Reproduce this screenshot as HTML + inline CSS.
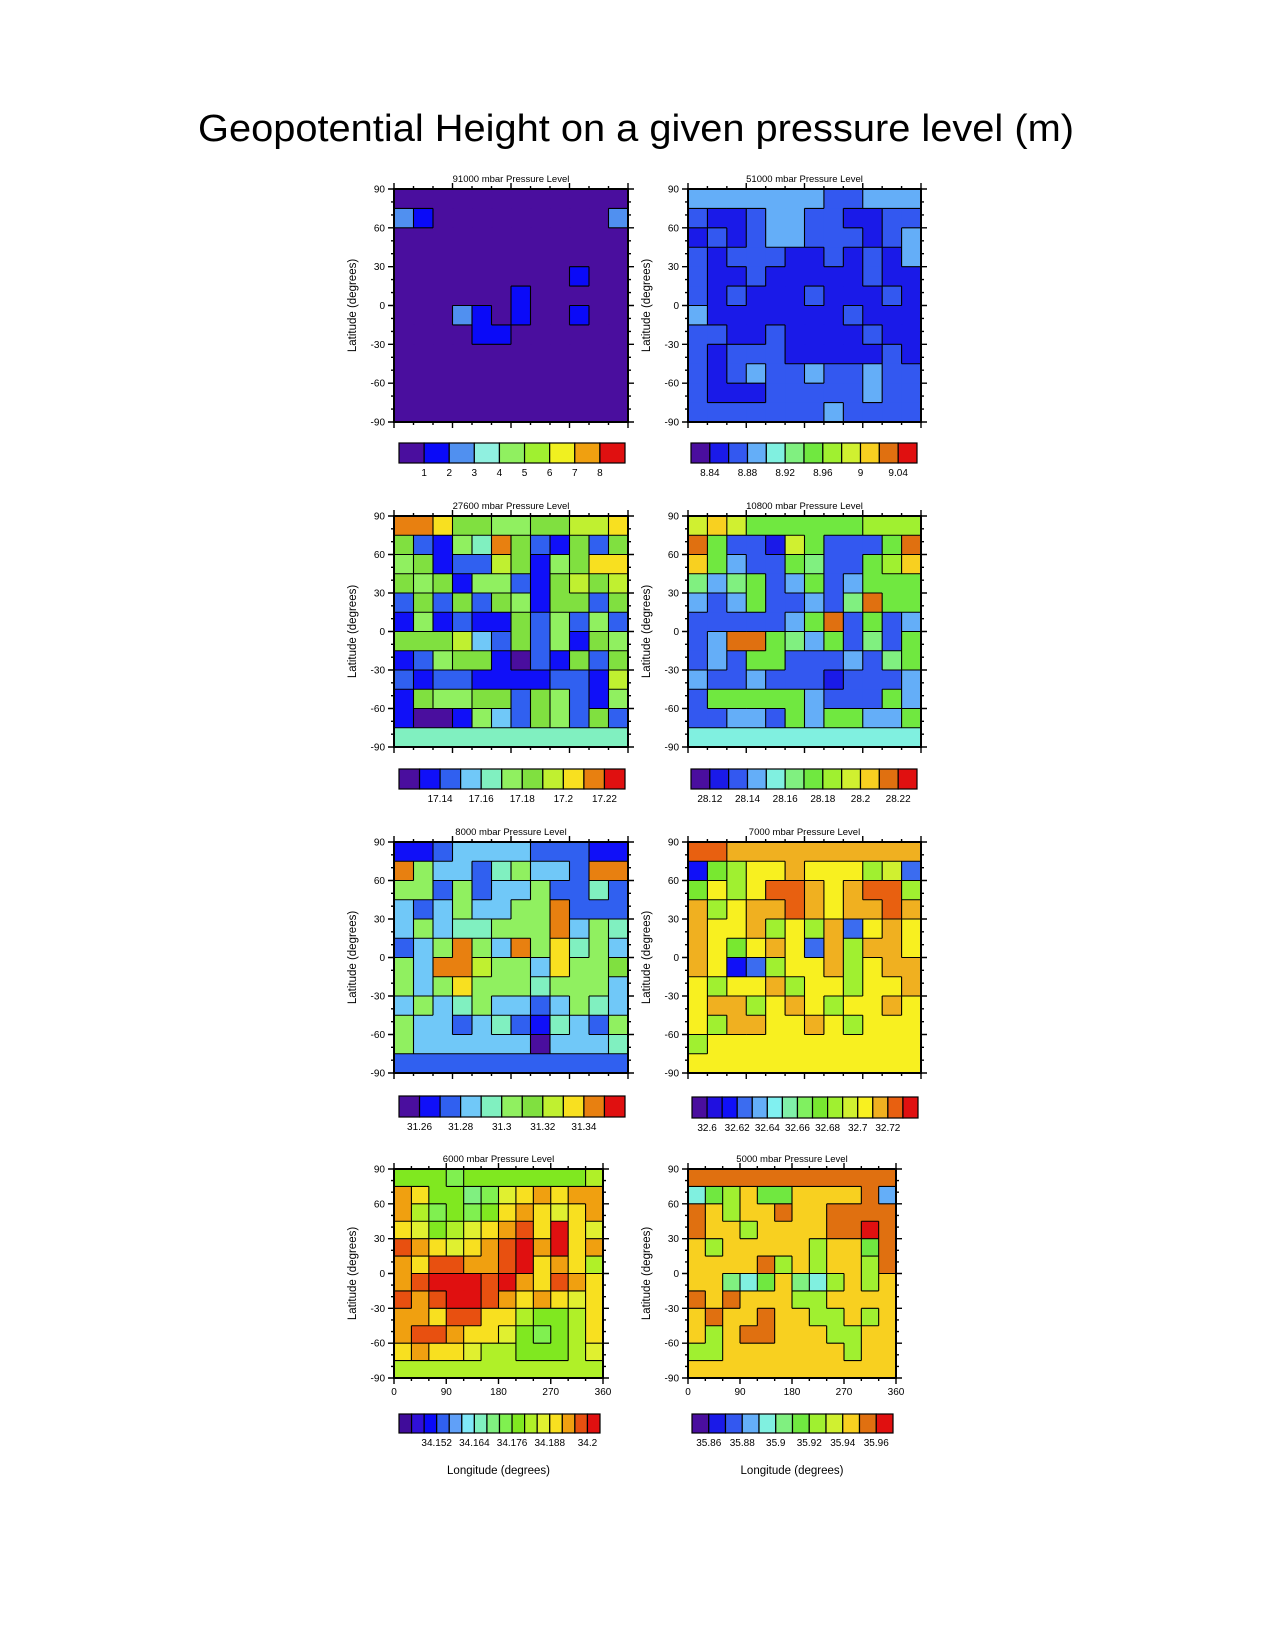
<!DOCTYPE html>
<html><head><meta charset="utf-8">
<style>
html,body{margin:0;padding:0;background:#fff;}
svg{display:block;font-family:"Liberation Sans",sans-serif;}
</style></head>
<body>
<svg id="fig" width="1275" height="1650" viewBox="0 0 1275 1650" xmlns="http://www.w3.org/2000/svg">
<rect x="0" y="0" width="1275" height="1650" fill="#fff"/>
<text x="636" y="141" font-size="38" text-anchor="middle" textLength="876" lengthAdjust="spacingAndGlyphs" fill="#000">Geopotential Height on a given pressure level (m)</text>
</svg>
<script>
// ---- data: colour-level index grids (12 lon cols x 12 lat rows, top row = 90N) ----
const titles = ["91000 mbar Pressure Level","51000 mbar Pressure Level","27600 mbar Pressure Level","10800 mbar Pressure Level","8000 mbar Pressure Level","7000 mbar Pressure Level","6000 mbar Pressure Level","5000 mbar Pressure Level"];
const levels1 = [1,2,3,4,5,6,7,8];
const levels2 = [8.84,8.86,8.88,8.90,8.92,8.94,8.96,8.98,9,9.02,9.04];
const levels3 = [17.13,17.14,17.15,17.16,17.17,17.18,17.19,17.2,17.21,17.22];
const levels4 = [28.12,28.13,28.14,28.15,28.16,28.17,28.18,28.19,28.2,28.21,28.22];
const levels5 = [31.26,31.27,31.28,31.29,31.3,31.31,31.32,31.33,31.34,31.35];
const levels6 = [32.6,32.61,32.62,32.63,32.64,32.65,32.66,32.67,32.68,32.69,32.7,32.71,32.72,32.73];
const levels7 = [34.144,34.148,34.152,34.156,34.16,34.164,34.168,34.172,34.176,34.18,34.184,34.188,34.192,34.196,34.2];
const levels8 = [35.86,35.87,35.88,35.89,35.9,35.91,35.92,35.93,35.94,35.95,35.96];
const labelEvery = [1,2,2,2,2,2,3,2];
const labelStart = [0,0,1,0,0,0,2,0];
const field1 = [
[0,0,0,0,0,0,0,0,0,0,0,0],[2,1,0,0,0,0,0,0,0,0,0,2],[0,0,0,0,0,0,0,0,0,0,0,0],[0,0,0,0,0,0,0,0,0,0,0,0],
[0,0,0,0,0,0,0,0,0,1,0,0],[0,0,0,0,0,0,1,0,0,0,0,0],[0,0,0,2,1,0,1,0,0,1,0,0],[0,0,0,0,1,1,0,0,0,0,0,0],
[0,0,0,0,0,0,0,0,0,0,0,0],[0,0,0,0,0,0,0,0,0,0,0,0],[0,0,0,0,0,0,0,0,0,0,0,0],[0,0,0,0,0,0,0,0,0,0,0,0]];
const field2 = [
[3,3,3,3,3,3,3,2,2,3,3,3],[2,1,1,2,3,3,2,2,1,1,2,2],[1,2,1,2,3,3,2,2,2,1,2,3],[2,1,2,2,2,1,1,2,1,2,1,3],
[2,1,1,2,1,1,1,1,1,2,1,1],[2,1,2,1,1,1,2,1,1,1,2,1],[3,1,1,1,1,1,1,1,2,1,1,1],[2,2,1,1,2,1,1,1,1,2,1,1],
[2,1,2,2,2,1,1,1,1,1,2,1],[2,1,2,3,2,2,3,2,2,3,2,2],[2,1,1,1,2,2,2,2,2,3,2,2],[2,2,2,2,2,2,2,3,2,2,2,2]];
const field3 = [
[9,9,8,6,6,5,5,6,6,7,7,8],[6,2,1,5,4,9,6,2,1,6,2,6],[5,6,1,2,2,7,6,1,5,6,8,8],[6,5,6,1,5,5,2,1,6,7,6,7],
[2,6,2,6,2,6,5,1,6,6,2,6],[1,5,1,2,1,1,6,2,5,2,5,2],[6,6,6,7,3,2,6,2,5,1,6,5],[1,2,5,6,6,1,0,2,1,6,2,6],
[2,1,2,2,1,1,1,1,2,2,1,7],[1,6,5,5,6,6,2,6,5,2,1,5],[1,0,0,1,5,3,2,6,5,2,6,2],[4,4,4,4,4,4,4,4,4,4,4,4]];
const field4 = [
[8,9,8,6,6,6,6,6,6,7,7,7],[10,6,2,2,1,8,6,2,2,2,6,10],[9,6,3,2,2,6,5,2,2,6,7,9],[5,3,5,6,2,3,6,2,3,6,6,6],
[3,2,3,6,2,2,3,2,5,10,6,6],[2,2,2,2,2,3,6,10,2,6,2,3],[2,3,10,10,6,5,3,6,2,5,2,6],[2,3,2,6,6,2,2,2,3,2,5,6],
[3,2,2,3,2,2,2,1,2,2,2,3],[2,6,6,6,6,6,3,2,2,2,6,3],[2,2,3,3,2,6,3,6,6,3,3,6],[4,4,4,4,4,4,4,4,4,4,4,4]];
const field5 = [
[1,1,2,3,3,3,3,2,2,2,1,1],[9,5,3,3,2,4,5,3,3,2,9,9],[5,5,2,5,2,3,3,5,2,2,4,2],[3,2,3,5,3,3,5,5,9,2,2,2],
[3,5,3,4,4,5,5,5,9,3,5,4],[2,3,5,9,5,3,9,5,8,4,5,3],[5,3,9,9,7,5,5,3,8,5,5,6],[5,3,5,8,5,5,5,4,5,5,5,3],
[3,5,3,4,5,3,3,2,3,5,4,3],[5,3,3,2,3,4,2,1,4,3,2,5],[5,3,3,3,3,3,3,0,3,3,3,4],[2,2,2,2,2,2,2,2,2,2,2,2]];
const field6 = [
[13,13,12,12,12,12,12,12,12,12,12,12],[2,8,9,11,11,12,11,11,11,9,10,3],[8,11,9,11,13,13,12,11,12,13,13,9],[12,9,11,12,12,13,12,11,12,12,13,12],
[12,11,11,12,9,11,9,12,3,11,12,11],[12,11,8,11,12,11,3,12,9,12,12,11],[12,11,2,3,9,11,11,12,9,11,12,12],[11,9,11,11,12,9,11,11,9,11,11,12],
[11,12,12,9,11,12,11,9,11,11,12,11],[11,9,12,12,11,11,12,11,9,11,11,11],[9,11,11,11,11,11,11,11,11,11,11,11],[11,11,11,11,11,11,11,11,11,11,11,11]];
const field7 = [
[9,9,9,8,9,9,9,9,9,9,9,10],[13,12,9,9,7,8,11,12,13,12,13,13],[13,10,8,9,8,9,12,13,12,11,12,13],[12,11,9,10,11,12,13,14,12,15,12,11],
[14,13,12,11,12,13,14,15,13,15,12,13],[13,12,14,14,13,13,14,15,12,13,12,10],[13,14,15,15,15,14,15,13,12,14,13,12],[14,13,14,15,15,14,13,12,13,12,11,12],
[13,13,12,14,14,12,12,10,9,9,10,12],[13,14,14,13,12,12,11,9,8,9,10,12],[12,13,12,12,11,10,10,9,9,9,10,11],[10,10,10,10,10,10,10,10,10,10,10,10]];
const field8 = [
[10,10,10,10,10,10,10,10,10,10,10,10],[4,6,7,9,6,6,9,9,9,9,10,3],[10,9,7,9,9,10,9,9,10,10,10,10],[10,9,9,7,9,9,9,9,10,10,11,10],
[9,7,9,9,9,9,9,7,9,9,6,10],[9,9,9,9,10,7,9,7,9,9,7,10],[9,9,5,4,6,9,5,4,7,9,7,9],[10,9,10,9,9,9,7,7,9,9,9,9],
[9,10,9,9,10,9,9,7,7,9,7,9],[9,7,9,10,10,9,9,9,7,7,9,9],[7,7,9,9,9,9,9,9,9,7,9,9],[9,9,9,9,9,9,9,9,9,9,9,9]];
const yTicks = [90,60,30,0,-30,-60,-90];
const xTicks = [0,90,180,270,360];

// ---- styles / layout ----
const pal9 = ["#4a0e9e","#0a0af8","#5090f0","#90f0e0","#90f060","#a0f030","#f0f020","#f0a010","#e01010"];
const pal11 = ["#4a0e9e","#1010f8","#3060f0","#70c8f8","#80f0c0","#90f060","#80e040","#c0f030","#f8e020","#e88010","#e01010"];
const pal12 = ["#4a0e9e","#1a1ae8","#3358f0","#64aef8","#80f0e0","#80f080","#70e840","#a0f030","#d0f030","#f8d020","#e07010","#e01010"];
const pal15 = ["#4a0e9e","#2010e0","#1010f8","#3b6cf0","#64aef8","#80f0f0","#80f0a8","#80f060","#78e830","#a0f030","#d0f030","#f8f020","#f0b020","#e86010","#e01010"];
const pal16 = ["#400c9a","#3010d8","#0a0af8","#3060f0","#60a0f8","#80e8f8","#80f0c0","#80f080","#80f050","#80e820","#b0f028","#e0f030","#f8e020","#f0a010","#e85010","#e01010"];
const fields = [field1,field2,field3,field4,field5,field6,field7,field8];
const levelSets = [levels1,levels2,levels3,levels4,levels5,levels6,levels7,levels8];
const pals = [pal9,pal12,pal11,pal12,pal11,pal15,pal16,pal12];
const boxes = [
 {x:394,y:189,w:234,h:233},{x:688,y:189,w:233,h:233},
 {x:394,y:516,w:234,h:231},{x:688,y:516,w:233,h:231},
 {x:394,y:842,w:234,h:231},{x:688,y:842,w:233,h:231},
 {x:394,y:1169,w:209,h:209},{x:688,y:1169,w:208,h:209}];
const cbars = [
 {x:399,y:443,w:226,h:20},{x:691,y:443,w:226,h:20},
 {x:399,y:769,w:226,h:20},{x:691,y:769,w:226,h:20},
 {x:399,y:1096,w:226,h:21},{x:692,y:1097,w:226,h:21},
 {x:399,y:1414,w:201,h:19},{x:692,y:1414,w:201,h:19}];

const NS = "http://www.w3.org/2000/svg";
const svg = document.getElementById("fig");
function mk(tag, attrs, parent){
  const e = document.createElementNS(NS, tag);
  for (const k in attrs) e.setAttribute(k, attrs[k]);
  (parent||svg).appendChild(e);
  return e;
}
function txt(s, x, y, size, anchor, parent){
  const t = mk("text", {x:x, y:y, "font-size":size, "text-anchor":anchor||"middle", fill:"#000"}, parent);
  t.textContent = s;
  return t;
}

for (let p = 0; p < 8; p++){
  const b = boxes[p], f = fields[p], pal = pals[p];
  const g = mk("g", {});
  
  
  const nr = f.length, nc = f[0].length;
  const xs = c => b.x + c * b.w / nc;
  const ys = r => b.y + r * b.h / nr;
  for (let r = 0; r < nr; r++){
    for (let c = 0; c < nc; c++){
      const cell = mk("rect", {x:xs(c), y:ys(r), width:b.w/nc+0.6, height:b.h/nr+0.6, fill:pal[f[r][c]]}, g);
      
      
    }
  }
  let d = "";
  for (let r = 0; r < nr; r++) for (let c = 0; c < nc; c++){
    if (c < nc-1 && f[r][c] !== f[r][c+1]) d += `M${xs(c+1)},${ys(r)}V${ys(r+1)}`;
    if (r < nr-1 && f[r][c] !== f[r+1][c]) d += `M${xs(c)},${ys(r+1)}H${xs(c+1)}`;
  }
  const cl = mk("path", {d:d, stroke:"#000", "stroke-width":1.1, fill:"none"}, g);
  
  
  const fr = mk("rect", {x:b.x, y:b.y, width:b.w, height:b.h, fill:"none", stroke:"#000", "stroke-width":2}, g);
  
  
  const latY = v => b.y + (90 - v) / 180 * b.h;
  let tk = "";
  for (let v = -90; v <= 90; v += 10){
    const major = v % 30 === 0;
    const L = major ? 6 : 3;
    tk += `M${b.x},${latY(v)}h${-L}M${b.x+b.w},${latY(v)}h${L}`;
  }
  const lonX = v => b.x + v / 360 * b.w;
  for (let v = 0; v <= 360; v += 30){
    const major = v % 90 === 0;
    const L = major ? 6 : 3;
    tk += `M${lonX(v)},${b.y}v${-L}M${lonX(v)},${b.y+b.h}v${L}`;
  }
  const tp = mk("path", {d:tk, stroke:"#000", "stroke-width":1.4, fill:"none"}, g);
  
  
  for (const v of yTicks){
    const t = txt(String(v), b.x - 9, latY(v) + 3.5, 10, "end", g);
    
    
  }
  const yl = txt("Latitude (degrees)", 0, 0, 11.5, "middle", g);
  yl.setAttribute("transform", `translate(${b.x-38},${b.y+b.h/2}) rotate(-90)`);
  
  
  const pt = txt(titles[p], b.x + b.w/2, b.y - 7, 9.5, "middle", g);
  
  
  if (p >= 6){
    for (const v of xTicks){
      const t = txt(String(v), lonX(v), b.y + b.h + 17, 10, "middle", g);
      
      
    }
    const xl = txt("Longitude (degrees)", b.x + b.w/2, 1474, 11.5, "middle", g);
    
    
  }
  const cb = cbars[p], lv = levelSets[p], n = pal.length;
  const cg = mk("g", {}, svg);
  
  
  const bw = cb.w / n;
  for (let i = 0; i < n; i++){
    const r = mk("rect", {x:cb.x + i*bw, y:cb.y, width:bw, height:cb.h, fill:pal[i], stroke:"#000", "stroke-width":1.2}, cg);
    
    
  }
  for (let i = labelStart[p]; i < lv.length; i += labelEvery[p]){
    const t = txt(String(lv[i]), cb.x + (i+1)*bw, cb.y + cb.h + 13, 10, "middle", cg);
    
    
  }
}
</script>
</body></html>
